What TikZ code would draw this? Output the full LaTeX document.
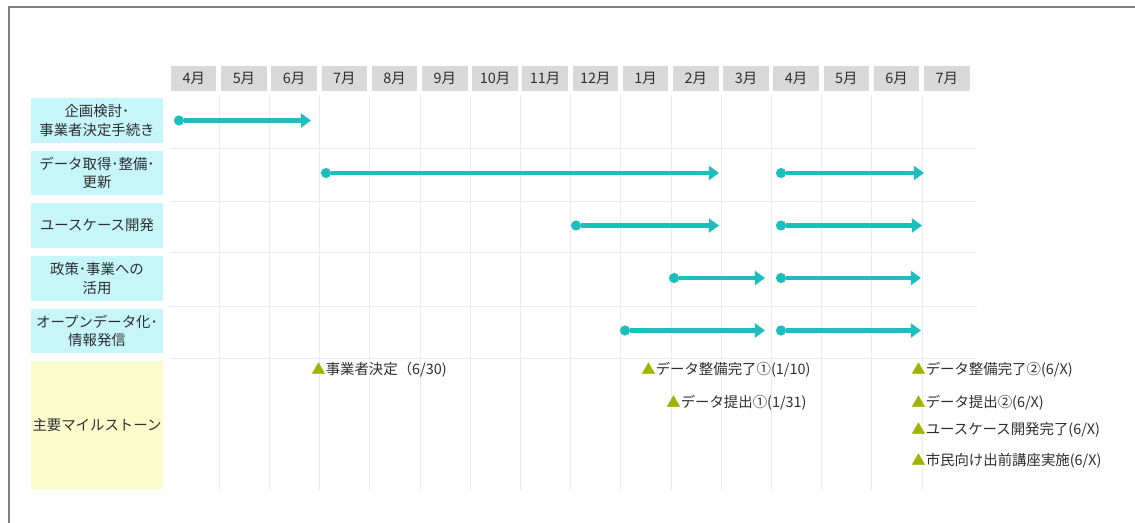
\documentclass[tikz,border=0pt]{standalone}
\usepackage{fontspec}
\setmainfont{Noto Sans CJK JP}
\usetikzlibrary{arrows.meta}
\definecolor{barteal}{HTML}{1CBFBE}
\definecolor{taskcyan}{HTML}{C6F6FA}
\definecolor{mileyellow}{HTML}{FAFDCB}
\definecolor{headgray}{HTML}{D9D9D9}
\definecolor{gridgray}{HTML}{EBEBEB}
\definecolor{framegray}{HTML}{808080}
\definecolor{textgray}{HTML}{2E2E2E}
\definecolor{markolive}{HTML}{9FB300}

\begin{document}
\begin{tikzpicture}[
    x=0.02cm, y=-0.02cm,
    month/.style={fill=headgray, minimum width=0.91cm, minimum height=0.5cm, inner sep=0pt, text=textgray},
    task/.style={fill=taskcyan, minimum width=2.64cm, minimum height=0.9cm, align=center, inner sep=0pt, text=textgray},
    dot/.style={circle, fill=barteal, inner sep=0pt, minimum size=5.8pt},
    bar/.style={draw=barteal, line width=2.3pt, -{Triangle[length=5.8pt, width=8pt]}},
    mile/.style={anchor=west, inner sep=0pt, text=textgray},
    font=\fontsize{8.2}{10.5}\selectfont
]
    \useasboundingbox (0,0) rectangle (1135,523);

    % 外枠 (上と左)
    \draw[framegray, line width=1.1pt] (9,523) -- (9,7) -- (1135,7);

    % 罫線
    \foreach \k in {1,...,15} {
        \draw[gridgray, line width=0.5pt] (169+50.2*\k,95) -- (169+50.2*\k,490);
    }
    \foreach \yy in {148,201,252,306,358} {
        \draw[gridgray, line width=0.5pt] (170,\yy) -- (977,\yy);
    }

    % 月見出し
    \foreach \m [count=\k from 0] in {4,5,6,7,8,9,10,11,12,1,2,3,4,5,6,7} {
        \node[month] (m\k) at (193.75+50.2*\k,78.5) {\m 月};
    }

    % 項目
    \node[task] (t1) at (97,120.5) {企画検討･\\事業者決定手続き};
    \node[task] (t2) at (97,173) {データ取得･整備･\\更新};
    \node[task] (t3) at (97,225.5) {ユースケース開発};
    \node[task] (t4) at (97,278.5) {政策･事業への\\活用};
    \node[task] (t5) at (97,331) {オープンデータ化･\\情報発信};
    \node[task, fill=mileyellow, minimum height=2.56cm] (t6) at (97,425) {主要マイルストーン};

    % 1. 企画検討
    \node[dot] (a1s) at (179,120.5) {};
    \coordinate (a1e) at (311,120.5);
    \draw[bar] (a1s) -- (a1e);

    % 2. データ取得・整備・更新
    \node[dot] (a2s) at (326,173) {};
    \coordinate (a2e) at (719,173);
    \draw[bar] (a2s) -- (a2e);
    \node[dot] (b2s) at (781,173) {};
    \coordinate (b2e) at (924,173);
    \draw[bar] (b2s) -- (b2e);

    % 3. ユースケース開発
    \node[dot] (a3s) at (576,225.5) {};
    \coordinate (a3e) at (719,225.5);
    \draw[bar] (a3s) -- (a3e);
    \node[dot] (b3s) at (781,225.5) {};
    \coordinate (b3e) at (922,225.5);
    \draw[bar] (b3s) -- (b3e);

    % 4. 政策・事業への活用
    \node[dot] (a4s) at (674,278) {};
    \coordinate (a4e) at (765,278);
    \draw[bar] (a4s) -- (a4e);
    \node[dot] (b4s) at (781,278) {};
    \coordinate (b4e) at (921,278);
    \draw[bar] (b4s) -- (b4e);

    % 5. オープンデータ化・情報発信
    \node[dot] (a5s) at (625,330.5) {};
    \coordinate (a5e) at (765,330.5);
    \draw[bar] (a5s) -- (a5e);
    \node[dot] (b5s) at (781,330.5) {};
    \coordinate (b5e) at (921,330.5);
    \draw[bar] (b5s) -- (b5e);

    % 6. マイルストーン
    \node[mile] (ms1) at (311,370) {\textcolor{markolive}{▲}事業者決定（6/30)};
    \node[mile] (ms2) at (641,370) {\textcolor{markolive}{▲}データ整備完了①(1/10)};
    \node[mile] (ms3) at (666,403) {\textcolor{markolive}{▲}データ提出①(1/31)};
    \node[mile] (ms4) at (911,370) {\textcolor{markolive}{▲}データ整備完了②(6/X)};
    \node[mile] (ms5) at (911,403) {\textcolor{markolive}{▲}データ提出②(6/X)};
    \node[mile] (ms6) at (911,430) {\textcolor{markolive}{▲}ユースケース開発完了(6/X)};
    \node[mile] (ms7) at (911,461) {\textcolor{markolive}{▲}市民向け出前講座実施(6/X)};

\end{tikzpicture}
\end{document}
